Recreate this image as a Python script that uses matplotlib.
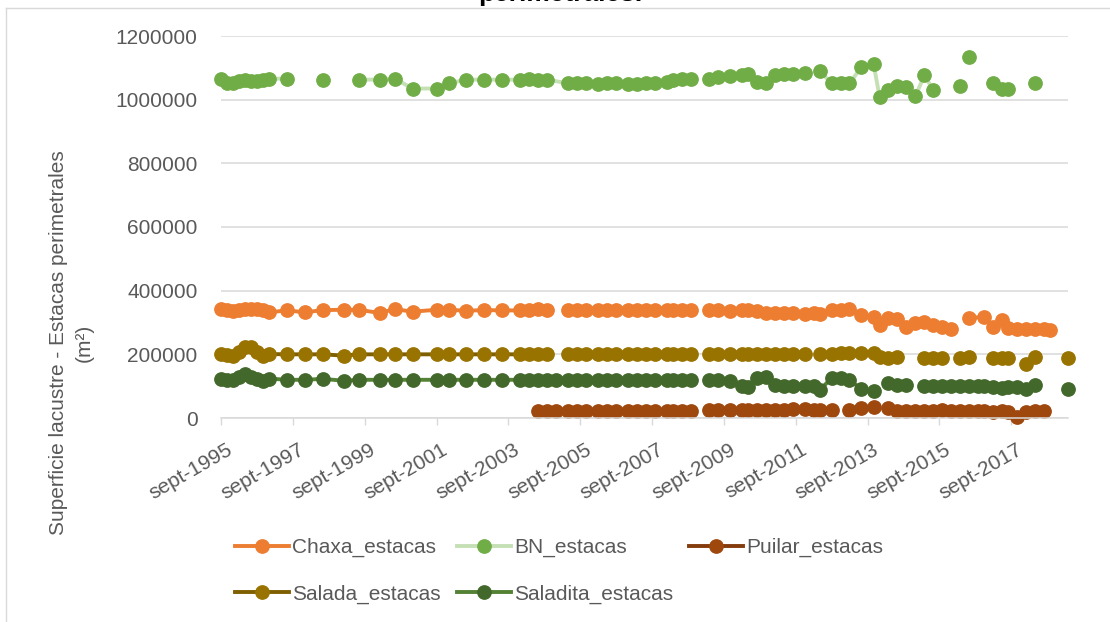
import matplotlib
matplotlib.use("Agg")
import matplotlib.pyplot as plt
import matplotlib.transforms as mtransforms
from matplotlib.lines import Line2D
import numpy as np
import pandas as pd

# --- DATOS (m2); None = hueco en la serie ---
chaxa_fechas = """
1995-09 1995-11
1996-01 1996-03 1996-05 1996-07 1996-09 1996-11
1997-01 1997-07 1998-01 1998-07 1999-02 1999-07 2000-02 2000-07
2001-01 2001-09 2002-01 2002-07 2003-01 2003-07
2004-01 2004-04 2004-07 2004-10
2005-01 2005-05 2005-08 2005-11
2006-03 2006-06 2006-09
2007-01 2007-04 2007-07 2007-10
2008-02 2008-04 2008-07 2008-10
2009-01 2009-04 2009-07 2009-11
2010-03 2010-05 2010-08 2010-11
2011-02 2011-05 2011-08 2011-12
2012-03 2012-05 2012-09 2012-12
2013-03 2013-07 2013-11
2014-01 2014-04 2014-07 2014-10
2015-01 2015-04 2015-07 2015-10
2016-01 2016-04 2016-07 2016-12
2017-03 2017-06 2017-08 2017-11
2018-02 2018-05 2018-08 2018-10
""".split()
chaxa_sup = [
    341000, 339000,
    336000, 338000, 341000, 342000, 343000, 338000,
    332000, 338000, 332000, 339000, 340000, 340000, 330000, 342000,
    334000, 340000, 340000, 337000, 339000, 338000,
    338000, 339000, 342000, 338000,
    None, 338000, 338000, 338000,
    338000, 338000, 338000,
    338000, 338000, 338000, 338000,
    338000, 339000, 338000, 338000,
    None, 338000, 338000, 337000,
    339000, 340000, 337000, 330000,
    331000, 330000, 329000, 327000,
    331000, 327000, 339000, 340000,
    341000, 323000, 316000,
    292000, 313000, 310000, 287000,
    298000, 302000, 292000, 287000,
    279000, None, 314000, 318000,
    287000, 308000, 283000, 279000,
    279000, 279000, 279000, 276000,
]

bn_fechas = """
1995-09 1995-11
1996-01 1996-03 1996-05 1996-07 1996-09 1996-11
1997-01 1997-07 1998-01 1998-07 1999-02 1999-07 2000-02 2000-07
2001-01 2001-09 2002-01 2002-07 2003-01 2003-07
2004-01 2004-04 2004-07 2004-10
2005-05 2005-08 2005-11
2006-03 2006-06 2006-09
2007-01 2007-04 2007-07 2007-10
2008-02 2008-04 2008-07 2008-10
2009-01 2009-04 2009-07 2009-11
2010-03 2010-05 2010-08 2010-11
2011-02 2011-05 2011-08 2011-12
2012-03 2012-05 2012-09 2012-12
2013-03 2013-07 2013-11
2014-01 2014-04 2014-07 2014-10
2015-01 2015-04 2015-07 2015-10
2016-04 2016-05 2016-07 2016-10
2017-03 2017-06 2017-08 2017-11
2018-05
""".split()
bn_sup = [
    1066000, 1051000,
    1051000, 1059000, 1062000, 1059000, 1060000, 1062000,
    1066000, 1066000, None, 1062000, None, 1063000, 1063000, 1066000,
    1035000, 1035000, 1051000, 1063000, 1063000, 1063000,
    1063000, 1066000, 1063000, 1063000,
    1051000, 1051000, 1051000,
    1049000, 1053000, 1053000,
    1049000, 1049000, 1051000, 1051000,
    1056000, 1061000, 1066000, 1066000,
    None, 1066000, 1072000, 1074000,
    1077000, 1082000, 1056000, 1051000,
    1077000, 1082000, 1082000, 1084000,
    None, 1091000, 1051000, 1051000,
    1051000, 1103000, 1112000,
    1009000, 1030000, 1042000, 1040000,
    1011000, 1077000, 1030000, None,
    1042000, None, 1133000, None,
    1051000, 1032000, 1032000, None,
    1051000,
]

puilar_fechas = """
2004-07 2004-10
2005-01 2005-05 2005-08 2005-11
2006-03 2006-06 2006-09
2007-01 2007-04 2007-07 2007-10
2008-02 2008-04 2008-07 2008-10
2009-01 2009-04 2009-07 2009-11
2010-03 2010-05 2010-08 2010-11
2011-02 2011-05 2011-08 2011-12
2012-03 2012-05 2012-09 2012-12
2013-03 2013-07 2013-11
2014-01 2014-04 2014-07 2014-10
2015-01 2015-04 2015-07 2015-10
2016-01 2016-04 2016-07 2016-10 2016-12
2017-03 2017-06 2017-08 2017-11
2018-02 2018-05 2018-08
""".split()
puilar_sup = [
    22000, 22000,
    22000, 22000, 22000, 22000,
    22000, 22000, 22000,
    22000, 22000, 22000, 22000,
    22000, 22000, 22000, 22000,
    None, 24000, 24000, 25000,
    25000, 25000, 25000, 26000,
    26000, 26000, 27000, 27000,
    26000, 25000, 24000, None,
    25000, 31000, 33000,
    None, 30000, 22000, 22000,
    22000, 22000, 22000, 24000,
    22000, 22000, 22000, 22000, 22000,
    20000, 22000, 18000, 4000,
    20000, 22000, 22000,
]

salada_fechas = """
1995-09 1995-11
1996-01 1996-03 1996-05 1996-07 1996-09 1996-11
1997-01 1997-07 1998-01 1998-07 1999-02 1999-07 2000-02 2000-07
2001-01 2001-09 2002-01 2002-07 2003-01 2003-07
2004-01 2004-04 2004-07 2004-10
2005-01 2005-05 2005-08 2005-11
2006-03 2006-06 2006-09
2007-01 2007-04 2007-07 2007-10
2008-02 2008-04 2008-07 2008-10
2009-01 2009-04 2009-07 2009-11
2010-03 2010-05 2010-08 2010-11
2011-02 2011-05 2011-08 2011-12
2012-03 2012-05 2012-09 2012-12
2013-03 2013-07 2013-11
2014-01 2014-04 2014-07 2014-10
2015-04 2015-07 2015-10
2016-01 2016-04 2016-07 2016-10
2017-03 2017-06 2017-08 2017-11
2018-02 2018-05 2018-08
2019-04
""".split()
salada_sup = [
    201000, 198000,
    195000, 208000, 224000, 222000, 208000, 195000,
    201000, 200000, 200000, 200000, 196000, 200000, 200000, 200000,
    200000, 200000, 200000, 200000, 200000, 200000,
    200000, 200000, 200000, 200000,
    None, 200000, 200000, 200000,
    200000, 200000, 200000,
    200000, 200000, 200000, 200000,
    200000, 200000, 200000, 200000,
    None, 200000, 200000, 200000,
    200000, 200000, 200000, 200000,
    200000, 200000, 200000, 200000,
    None, 200000, 200000, 203000,
    203000, 205000, 205000,
    192000, 190000, 192000, None,
    190000, 190000, 190000,
    None, 190000, 192000, None,
    190000, 190000, 190000, None,
    170000, 192000, None,
    190000,
]

saladita_fechas = """
1995-09 1995-11
1996-01 1996-03 1996-05 1996-07 1996-09 1996-11
1997-01 1997-07 1998-01 1998-07 1999-02 1999-07 2000-02 2000-07
2001-01 2001-09 2002-01 2002-07 2003-01 2003-07
2004-01 2004-04 2004-07 2004-10
2005-01 2005-05 2005-08 2005-11
2006-03 2006-06 2006-09
2007-01 2007-04 2007-07 2007-10
2008-02 2008-04 2008-07 2008-10
2009-01 2009-04 2009-07 2009-11
2010-03 2010-05 2010-08 2010-11
2011-02 2011-05 2011-08 2011-12
2012-03 2012-05 2012-09 2012-12
2013-03 2013-07 2013-11
2014-01 2014-04 2014-07 2014-10
2015-01 2015-04 2015-07 2015-10
2016-01 2016-04 2016-07 2016-10 2016-12
2017-03 2017-06 2017-08 2017-11
2018-02 2018-05 2018-08
2019-04
""".split()
saladita_sup = [
    121000, 119000,
    118000, 128000, 137000, 130000, 124000, 115000,
    124000, 120000, 120000, 123000, 117000, 120000, 120000, 120000,
    120000, 120000, 120000, 120000, 120000, 120000,
    120000, 120000, 120000, 120000,
    120000, 120000, 120000, 120000,
    118000, 118000, 120000,
    120000, 120000, 120000, 120000,
    120000, 120000, 120000, 118000,
    None, 120000, 120000, 117000,
    100000, 98000, 126000, 128000,
    104000, 100000, 100000, 100000,
    100000, 88000, 125000, 125000,
    120000, 90000, 86000,
    None, 111000, 104000, 104000,
    None, 100000, 100000, 100000,
    100000, 100000, 100000, 100000, 100000,
    97000, 95000, 98000, 98000,
    92000, 104000, None,
    90000,
]

tick_anios = list(range(1995, 2018, 2))

# --- FIGURA ---
W, H = 1110, 622
plt.rcParams['font.family'] = ['Liberation Sans', 'DejaVu Sans']
fig = plt.figure(figsize=(W / 100, H / 100), dpi=100)
ax = fig.add_axes([221 / W, 1 - 418 / H, (1068 - 221) / W, (418 - 36) / H])

series = [
    ("Chaxa_estacas", chaxa_fechas, chaxa_sup, "#ED7D31", "#ED7D31"),
    ("BN_estacas", bn_fechas, bn_sup, "#C5E0B4", "#70AD47"),
    ("Puilar_estacas", puilar_fechas, puilar_sup, "#843C0C", "#9E480E"),
    ("Salada_estacas", salada_fechas, salada_sup, "#7F6000", "#997300"),
    ("Saladita_estacas", saladita_fechas, saladita_sup, "#548235", "#43682B"),
]

handles = {}
for nombre, fechas, sup, c_linea, c_marca in series:
    x = pd.to_datetime(fechas)
    y = np.array(sup, dtype=float)
    ln, = ax.plot(x, y, '-', color=c_linea, lw=2.8, marker='o', ms=9.6,
                  mfc=c_marca, mec=c_marca, label=nombre, clip_on=False)
    handles[nombre] = ln

# ejes
ax.set_ylim(0, 1200000)
ax.set_xlim(pd.Timestamp('1995-09-01'), pd.Timestamp('2019-04-01'))
yt = np.arange(0, 1200001, 200000)
ax.set_yticks(yt)
ax.set_yticklabels([str(v) for v in yt])
ax.yaxis.grid(True, color='#D9D9D9', lw=1.1)
ax.set_axisbelow(True)
for s in ['left', 'top', 'right']:
    ax.spines[s].set_visible(False)
ax.spines['bottom'].set_color('#D9D9D9')
ax.spines['bottom'].set_linewidth(1.1)
ax.tick_params(axis='y', length=0, pad=17, labelsize=15, labelcolor='#595959')
ax.tick_params(axis='x', length=5, width=1, color='#D9D9D9', pad=11,
               labelsize=15, labelcolor='#595959')

ax.set_xticks(pd.to_datetime([f"{a}-09-01" for a in tick_anios]))
ax.set_xticklabels([f"sept-{a}" for a in tick_anios], rotation=30,
                   ha='right', va='top', rotation_mode='anchor')
offset = mtransforms.ScaledTranslation(5 / 100, 0, fig.dpi_scale_trans)
for lab in ax.get_xticklabels():
    lab.set_transform(lab.get_transform() + offset)

# titulos
fig.text(71 / W, 1 - 343 / H, "Superficie lacustre - Estacas perimetrales\n(m²)",
         rotation=90, ha='center', va='center', multialignment='center',
         fontsize=15, color='#595959', linespacing=1.45)
fig.text(560 / W, 1 - 1 / H, "perimetrales.", ha='center', va='baseline',
         fontsize=19, fontweight='bold', color='black')

# leyenda (orden para que quede por filas como en Excel)
orden = ["Chaxa_estacas", "Salada_estacas", "BN_estacas", "Saladita_estacas", "Puilar_estacas"]
leg = fig.legend([handles[n] for n in orden], orden, loc='upper left',
                 bbox_to_anchor=(235 / W, 1 - 538 / H), ncol=3, frameon=False,
                 fontsize=15, handlelength=2.6, handletextpad=0.15,
                 columnspacing=0.75, labelspacing=1.3, borderpad=0, borderaxespad=0)
for t in leg.get_texts():
    t.set_color('#595959')

# borde del area del grafico
fig.add_artist(Line2D([6 / W, 1], [1 - 8 / H, 1 - 8 / H], transform=fig.transFigure,
                      color='#D9D9D9', lw=1))
fig.add_artist(Line2D([6 / W, 6 / W], [0, 1 - 8 / H], transform=fig.transFigure,
                      color='#D9D9D9', lw=1))

fig.savefig('out.png', dpi=100)
